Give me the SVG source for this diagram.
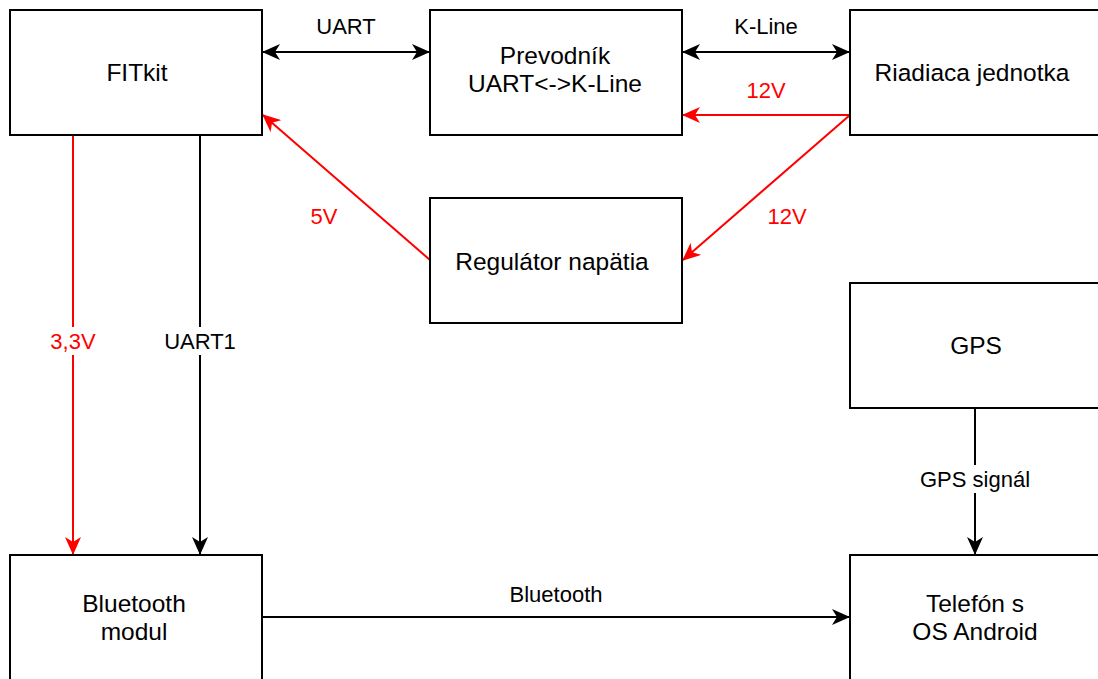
<svg xmlns="http://www.w3.org/2000/svg" width="1098" height="679" viewBox="0 0 1098 679">
<style>
.box{fill:#fff;stroke:#000;stroke-width:2}
.t{font-family:"Liberation Sans",Arial,sans-serif;font-size:24.5px;text-anchor:middle;fill:#000}
.l{font-family:"Liberation Sans",Arial,sans-serif;font-size:22px;text-anchor:middle;fill:#000}
.r{fill:#f00}
.k{fill:none;stroke:#000;stroke-width:2}
.red{fill:none;stroke:#f00;stroke-width:2}
.bg{fill:#fff}
</style>
<defs>
<marker id="ak" viewBox="0 0 18 16" refX="17" refY="8" markerWidth="18" markerHeight="16" markerUnits="userSpaceOnUse" orient="auto-start-reverse"><path d="M0,0 L18,8 L0,16 L5,8 Z" fill="#000"/></marker>
<marker id="ar" viewBox="0 0 18 16" refX="17" refY="8" markerWidth="18" markerHeight="16" markerUnits="userSpaceOnUse" orient="auto-start-reverse"><path d="M0,0 L18,8 L0,16 L5,8 Z" fill="#f00"/></marker>
</defs>
<rect width="1098" height="679" fill="#fff"/>
<g id="connectors">
<line class="k" x1="263" y1="52" x2="429" y2="52" marker-start="url(#ak)" marker-end="url(#ak)"/>
<text class="l" x="346" y="34">UART</text>
<line class="k" x1="683" y1="52" x2="849" y2="52" marker-start="url(#ak)" marker-end="url(#ak)"/>
<text class="l" x="766" y="34">K-Line</text>
<line class="red" x1="850" y1="115" x2="683" y2="115" marker-end="url(#ar)"/>
<text class="l r" x="766" y="98">12V</text>
<line class="red" x1="850" y1="115" x2="683" y2="260" marker-end="url(#ar)"/>
<text class="l r" x="787" y="224">12V</text>
<line class="red" x1="430" y1="260" x2="263" y2="115" marker-end="url(#ar)"/>
<text class="l r" x="324" y="224">5V</text>
<line class="red" x1="73" y1="135" x2="73" y2="554" marker-end="url(#ar)"/>
<rect class="bg" x="45" y="327" width="56" height="28"/>
<text class="l r" x="73" y="349">3,3V</text>
<line class="k" x1="200" y1="135" x2="200" y2="554" marker-end="url(#ak)"/>
<rect class="bg" x="158" y="327" width="84" height="28"/>
<text class="l" x="200" y="349">UART1</text>
<line class="k" x1="975" y1="408" x2="975" y2="554" marker-end="url(#ak)"/>
<rect class="bg" x="913" y="465" width="124" height="28"/>
<text class="l" x="975" y="487">GPS signál</text>
<line class="k" x1="262" y1="617" x2="849" y2="617" marker-end="url(#ak)"/>
<text class="l" x="556" y="602">Bluetooth</text>
</g>
<g id="fitkit"><rect class="box" x="10" y="10" width="252" height="125"/><text class="t" x="137" y="81">FITkit</text></g>
<g id="prevodnik"><rect class="box" x="430" y="10" width="252" height="125"/><text class="t" x="555" y="64">Prevodník</text><text class="t" x="555" y="92">UART&lt;-&gt;K-Line</text></g>
<g id="riadiaca"><rect class="box" x="850" y="10" width="252" height="125"/><text class="t" x="972" y="81">Riadiaca jednotka</text></g>
<g id="regulator"><rect class="box" x="430" y="198" width="252" height="125"/><text class="t" x="552" y="270">Regulátor napätia</text></g>
<g id="gps"><rect class="box" x="850" y="283" width="252" height="125"/><text class="t" x="976" y="354">GPS</text></g>
<g id="bluetooth"><rect class="box" x="10" y="555" width="252" height="130"/><text class="t" x="134" y="612">Bluetooth</text><text class="t" x="134" y="640">modul</text></g>
<g id="telefon"><rect class="box" x="850" y="555" width="252" height="130"/><text class="t" x="975" y="612">Telefón s</text><text class="t" x="975" y="640">OS Android</text></g>
</svg>
